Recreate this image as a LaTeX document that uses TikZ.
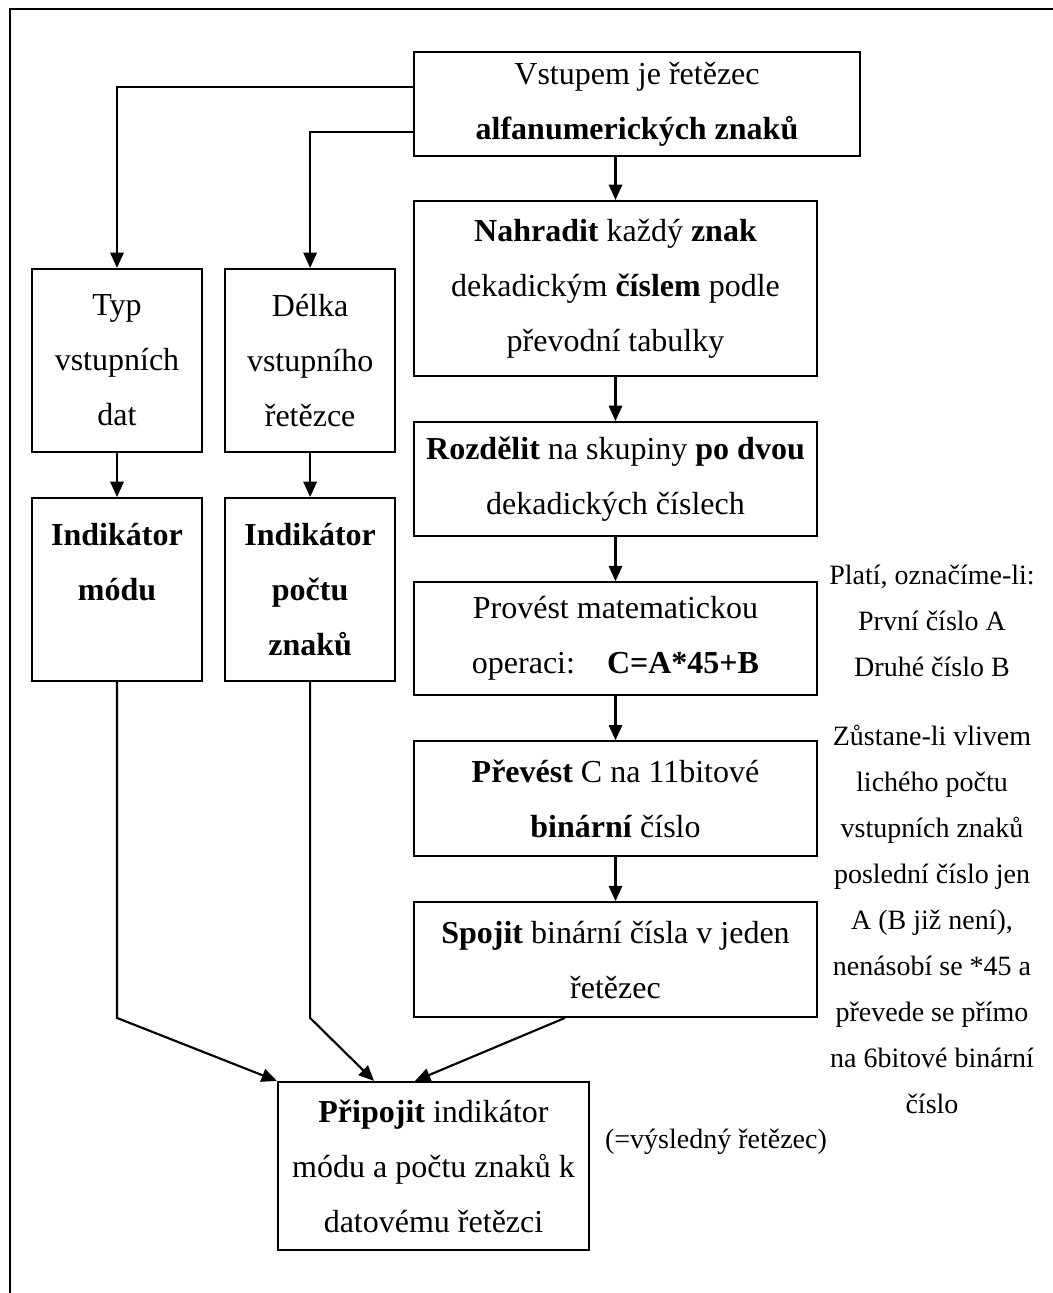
\documentclass[tikz,border=0pt]{standalone}
\usepackage{fontspec}
\setmainfont{Liberation Serif}
\usepackage{tikz}
\usetikzlibrary{arrows.meta, positioning}

\begin{document}
\begin{tikzpicture}[x=0.75pt, y=-0.75pt, node distance=33pt, >={Triangle[length=11.5pt, width=10pt]}]
    \tikzstyle{stepbox} = [rectangle, draw=black, line width=1.6pt, inner sep=4pt, align=center, font={\fontsize{24}{41.25}\selectfont}]
    \tikzstyle{colbox} = [stepbox, minimum width=302.25pt]
    \tikzstyle{sidebox} = [stepbox, minimum width=127.5pt, minimum height=137.25pt]
    \tikzstyle{note} = [align=center, inner sep=0pt, font={\fontsize{21}{34.5}\selectfont}]
    \tikzstyle{arr} = [->, line width=1.6pt]

    \useasboundingbox (0,0) rectangle (1053,1293);
    \draw[line width=1.6pt] (10,1293) -- (10,9) -- (1053,9);

    \node (in) [stepbox, minimum width=334.5pt, minimum height=78pt] at (637,104) {Vstupem je řetězec\\\textbf{alfanumerických znaků}};
    \node (nahr) [colbox, minimum height=131.25pt] at (615.5,288.5) {\textbf{Nahradit} každý \textbf{znak}\\dekadickým \textbf{číslem} podle\\převodní tabulky};
    \node (rozd) [colbox, minimum height=85.5pt, below=of nahr] {\textbf{Rozdělit} na skupiny \textbf{po dvou}\\dekadických číslech};
    \node (prov) [colbox, minimum height=84.75pt, below=of rozd] {Provést matematickou\\operaci:\quad\textbf{C=A*45+B}};
    \node (prev) [colbox, minimum height=86pt, below=of prov] {\textbf{Převést} C na 11bitové\\\textbf{binární} číslo};
    \node (spoj) [colbox, minimum height=86pt, below=of prev] {\textbf{Spojit} binární čísla v jeden\\řetězec};

    \node (typ) [sidebox] at (117,360.5) {Typ\\vstupních\\dat};
    \node (delka) [sidebox, right=15.75pt of typ] {Délka\\vstupního\\řetězce};
    \node (indm) [sidebox, below=of typ] {\textbf{Indikátor}\\\textbf{módu}\\\mbox{}};
    \node (indp) [sidebox, below=of delka] {\textbf{Indikátor}\\\textbf{počtu}\\\textbf{znaků}};

    \node (out) [stepbox, minimum width=233.25pt, minimum height=126pt] at (433.5,1166) {\textbf{Připojit} indikátor\\módu a počtu znaků k\\datovému řetězci};

    \node (platí) [note] at (932,621) {Platí, označíme-li:\\První číslo A\\Druhé číslo B};
    \node (lichy) [note] at (932,919) {Zůstane-li vlivem\\lichého počtu\\vstupních znaků\\poslední číslo jen\\A (B již není),\\nenásobí se *45 a\\převede se přímo\\na 6bitové binární\\číslo};
    \node (vysl) [note] at (716,1142) {(=výsledný řetězec)};

    % Input splits to the left column and the main chain
    \draw[arr] ([yshift=12.75pt]in.west) -| (typ.north);
    \draw[arr] ([yshift=-21pt]in.west) -| (delka.north);
    \draw[arr] (in.south -| nahr.north) -- (nahr.north);
    \draw[arr] (nahr) -- (rozd);
    \draw[arr] (rozd) -- (prov);
    \draw[arr] (prov) -- (prev);
    \draw[arr] (prev) -- (spoj);
    \draw[arr] (typ) -- (indm);
    \draw[arr] (delka) -- (indp);

    % Everything joins in the last box
    \draw[arr] (indm.south) -- (indm.south |- spoj.south) -- (out.north west);
    \draw[arr] (indp.south) -- (indp.south |- spoj.south) -- ([xshift=-44.6pt]out.north);
    \draw[arr] ([xshift=-37.9pt]spoj.south) -- ([xshift=-13.9pt]out.north);
\end{tikzpicture}
\end{document}
